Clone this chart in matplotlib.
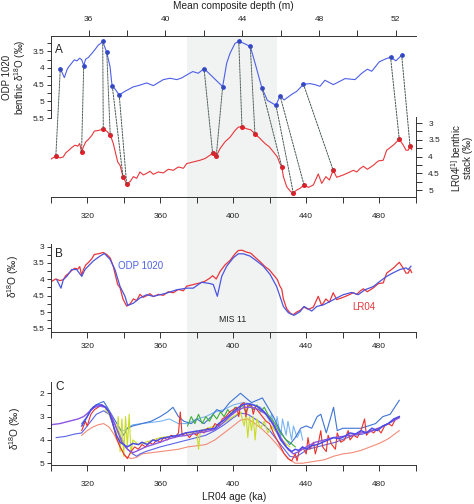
import matplotlib
matplotlib.use("Agg")
import numpy as np
import matplotlib.pyplot as plt
import matplotlib.ticker as tck
import matplotlib.transforms as mtransforms
from matplotlib.patches import Rectangle, ConnectionPatch

plt.rcParams['font.family'] = ['Liberation Sans', 'DejaVu Sans']
plt.rcParams['mathtext.fontset'] = 'custom'
plt.rcParams['mathtext.rm'] = 'Liberation Sans'
plt.rcParams['mathtext.default'] = 'regular'

# ---- panel A: ODP 1020 vs depth ----
odp_depth = [34.52, 34.73, 34.88, 34.97, 35.11, 35.25, 35.39, 35.53, 35.64, 35.74,
             35.84, 35.98, 36.16, 36.33, 36.50, 36.64, 36.73, 36.94, 37.11, 37.20,
             37.23, 37.37, 37.59, 37.89, 38.31, 38.58, 39.02, 39.37, 39.89, 40.24,
             40.59, 40.85, 41.11, 41.42, 41.71, 42.01, 42.98, 43.19, 43.36, 43.62,
             43.82, 44.06, 44.42, 44.67, 45.02, 45.31, 45.76, 45.97, 46.18, 46.58,
             46.84, 47.19, 47.53, 47.79, 48.05, 48.31, 48.75, 49.36, 49.88, 50.23,
             50.52, 50.75, 51.14, 51.44, 51.73, 52.01, 52.31]
odp_d18o = [4.02, 4.29, 4.04, 3.96, 3.86, 3.76, 3.79, 3.71, 3.76, 3.93,
            3.74, 3.69, 3.57, 3.45, 3.32, 3.26, 3.21, 3.54, 3.96, 4.45,
            4.55, 4.63, 4.81, 4.70, 4.57, 4.53, 4.45, 4.53, 4.35, 4.31,
            4.35, 4.30, 4.21, 4.11, 4.16, 4.02, 4.56, 3.86, 3.57, 3.27,
            3.21, 3.26, 3.36, 3.86, 4.59, 4.97, 5.12, 4.83, 4.96, 4.79,
            4.70, 4.49, 4.47, 4.50, 4.55, 4.37, 4.50, 4.32, 4.35, 4.16,
            4.04, 4.10, 3.82, 3.74, 3.68, 3.79, 3.62]

tie_depth = [34.52, 35.74, 36.73, 36.94, 37.23, 37.59, 42.01, 42.98,
             43.82, 44.42, 45.02, 45.76, 45.97, 47.19, 51.73, 52.31]
tie_odp = [4.02, 3.93, 3.21, 3.54, 4.55, 4.81, 4.02, 4.56,
           3.21, 3.36, 4.59, 5.12, 4.83, 4.49, 3.68, 3.62]

# ---- LR04 stack vs age (panels A and B) ----
lr04_age = [299.5, 300.5, 302.8, 305.1, 306.9, 308.2, 310.0, 311.5, 313.3, 314.8,
            315.9, 316.9, 317.9, 319.2, 320.6, 322.5, 323.9, 326.1, 328.8, 330.7,
            332.6, 334.3, 335.6, 336.7, 338.0, 339.6, 341.6, 343.5, 345.3, 347.1,
            348.9, 350.7, 352.6, 354.4, 356.2, 359.0, 361.7, 364.4, 367.2, 369.9,
            372.7, 374.5, 378.1, 381.8, 384.5, 387.3, 388.7, 390.7, 392.8, 395.5,
            398.3, 401.0, 402.8, 404.8, 407.4, 409.6, 411.9, 414.7, 417.4, 419.8,
            422.0, 424.2, 425.6, 426.6, 427.5, 429.3, 431.5, 432.9, 434.8, 436.6,
            438.8, 441.2, 443.9, 446.6, 448.5, 450.8, 452.7, 454.8, 456.7, 460.3,
            464.0, 465.8, 467.7, 469.5, 471.3, 473.5, 476.8, 479.5, 482.2, 484.1,
            487.7, 491.0, 493.2, 494.7, 495.9, 496.9, 497.8]
lr04_d18o = [4.11, 4.06, 3.99, 4.04, 4.01, 3.89, 3.81, 3.73, 3.66, 3.69,
             3.61, 3.87, 3.71, 3.56, 3.49, 3.37, 3.24, 3.22, 3.18, 3.24,
             3.35, 3.61, 3.91, 4.16, 4.26, 4.60, 4.82, 4.75, 4.60, 4.65,
             4.46, 4.55, 4.50, 4.44, 4.53, 4.46, 4.49, 4.38, 4.41, 4.31,
             4.35, 4.21, 4.16, 4.11, 4.06, 3.96, 3.89, 3.99, 3.76, 3.56,
             3.42, 3.22, 3.12, 3.11, 3.17, 3.20, 3.32, 3.46, 3.61, 3.71,
             3.86, 4.01, 4.21, 4.30, 4.60, 4.90, 5.05, 5.08, 5.00, 4.95,
             4.85, 4.92, 4.85, 4.52, 4.80, 4.60, 4.70, 4.41, 4.62, 4.55,
             4.46, 4.41, 4.46, 4.36, 4.29, 4.38, 4.26, 4.13, 4.11, 3.81,
             3.66, 3.48, 3.66, 3.81, 3.81, 3.69, 3.79]

tie_age = [302.8, 316.9, 328.8, 332.6, 339.6, 341.6, 388.7, 390.7,
           404.8, 411.9, 426.6, 432.9, 438.8, 454.8, 491.0, 496.9]
tie_lr04 = [3.99, 3.87, 3.18, 3.35, 4.60, 4.82, 3.89, 3.99,
            3.11, 3.32, 4.30, 5.08, 4.85, 4.41, 3.48, 3.69]

# ---- panel B: ODP 1020 on the LR04 age model ----
odp_age_b = [303.3, 305.6, 306.9, 308.8, 311.5, 314.2, 317.0, 318.8, 323.3, 327.0,
             329.4, 332.5, 335.2, 338.0, 340.7, 342.2, 345.3, 348.9, 352.6, 356.2,
             359.9, 363.6, 369.0, 374.5, 378.1, 382.7, 387.3, 389.1, 391.3, 393.7,
             396.4, 400.1, 402.8, 405.5, 409.2, 412.9, 416.5, 420.2, 423.8, 427.5,
             430.2, 433.3, 436.6, 438.8, 441.2, 443.0, 445.8, 449.4, 453.0, 456.7,
             460.3, 464.9, 468.5, 472.2, 476.8, 480.4, 484.1, 487.7, 491.4, 494.7,
             495.9, 497.4]
odp_d18o_b = [4.01, 4.27, 4.01, 3.91, 3.70, 3.70, 3.91, 3.70, 3.44, 3.29,
              3.21, 3.39, 3.70, 4.22, 4.52, 4.80, 4.73, 4.57, 4.47, 4.52,
              4.47, 4.42, 4.32, 4.27, 4.27, 4.09, 4.13, 4.16, 4.52, 3.91,
              3.60, 3.34, 3.22, 3.22, 3.29, 3.44, 3.60, 3.85, 4.22, 4.83,
              5.02, 5.10, 4.99, 4.83, 4.91, 4.97, 4.83, 4.78, 4.68, 4.57,
              4.47, 4.40, 4.47, 4.32, 4.22, 4.06, 3.91, 3.80, 3.70, 3.65,
              3.70, 3.60]

# ---- panel C: other records (age, d18O) ----
c_salmon = [(317, 3.8), (320, 3.6), (323, 3.45), (326, 3.35), (329, 3.3), (332, 3.45),
            (335, 3.8), (338, 4.3), (341, 4.7), (344, 4.8), (347, 4.75), (350, 4.6),
            (355, 4.55), (360, 4.5), (365, 4.45), (370, 4.4), (375, 4.3), (380, 4.25),
            (385, 4.2), (390, 4.0), (395, 3.7), (400, 3.4), (404, 3.15), (408, 3.1),
            (412, 3.3), (416, 3.55), (420, 3.85), (424, 4.2), (428, 4.6), (431, 4.85),
            (434, 5.0), (438, 5.0), (442, 4.95), (446, 4.9), (450, 4.85), (455, 4.7),
            (460, 4.6), (465, 4.55), (470, 4.45), (475, 4.3), (480, 4.15), (485, 3.95),
            (491, 3.6)]
c_lightblue = [(340, 3.6), (345, 3.35), (350, 3.3), (355, 3.25), (360, 3.2), (365, 3.1),
               (370, 3.3), (375, 3.3), (380, 3.1), (385, 3.0), (390, 2.8), (395, 2.7),
               (400, 2.5), (405, 2.4), (410, 2.45), (415, 2.6), (418, 2.9), (420, 3.2),
               (421, 2.9), (423, 3.6), (424, 3.0), (426, 3.9), (427, 3.1), (429, 3.8),
               (430, 3.2), (432, 4.0), (433, 3.4), (435, 3.9), (437, 3.6), (438, 4.0)]
c_steel = [(317, 3.3), (320, 3.0), (323, 2.6), (326, 2.45), (329, 2.35), (331, 2.6),
           (334, 3.0), (337, 3.4), (340, 3.8), (342, 3.5), (345, 3.4), (350, 3.3),
           (355, 3.2), (360, 3.0), (364, 2.8), (367, 2.6), (370, 3.0), (373, 3.2),
           (377, 3.3), (380, 3.1), (384, 3.3), (388, 3.0), (391, 2.7), (394, 2.8),
           (398, 2.4), (401, 2.2), (404, 2.0), (407, 2.2), (410, 2.4), (413, 2.3),
           (416, 2.2), (419, 2.6), (422, 3.0), (425, 3.5), (428, 3.9), (431, 4.2),
           (434, 3.9), (437, 3.5), (440, 3.4), (443, 3.5), (446, 3.0), (448, 2.9),
           (451, 3.7), (455, 2.6), (457, 3.6), (460, 3.5), (465, 3.5), (470, 3.5),
           (474, 3.4), (478, 3.3), (482, 3.0), (486, 2.9), (491, 2.3)]
c_blue2 = [(303, 3.9), (308, 3.85), (313, 3.75), (317, 3.7), (321, 3.3), (325, 2.9),
           (329, 2.75), (332, 2.9), (335, 3.3), (338, 3.8), (341, 4.3), (344, 4.55),
           (347, 4.7), (349, 4.6), (352, 4.5), (356, 4.4), (360, 4.3), (365, 4.2),
           (370, 4.1), (375, 4.0), (380, 3.9), (385, 3.8), (390, 3.6), (395, 3.35),
           (400, 3.05), (404, 2.85), (408, 2.9), (412, 3.1), (416, 3.3), (420, 3.6),
           (424, 4.0), (428, 4.4), (431, 4.7), (434, 4.75), (437, 4.6), (441, 4.4),
           (446, 4.3), (451, 4.2), (456, 4.1), (461, 3.95), (466, 3.8), (471, 3.75),
           (476, 3.6), (481, 3.45), (486, 3.25), (491, 3.0)]
c_green = [(375, 3.4), (377, 3.0), (379, 3.3), (381, 2.9), (383, 3.3), (385, 3.0),
           (387, 3.2), (389, 2.9), (391, 3.1), (393, 2.8), (395, 3.0), (397, 2.7),
           (399, 2.9), (401, 2.6), (403, 2.7), (405, 2.5), (407, 2.8), (409, 2.5),
           (411, 2.7), (413, 2.5), (415, 2.8), (417, 2.6), (419, 2.9), (421, 3.1),
           (423, 3.3), (425, 3.6), (427, 3.8), (429, 4.0), (431, 4.1), (434, 4.3)]
c_yellow = [(330, 2.7), (332, 2.9), (334, 3.3), (336, 3.9), (337, 3.0), (338, 4.5),
            (339, 3.1), (340, 4.7), (341, 3.0), (342, 4.3), (343, 2.9), (344, 4.6),
            (345, 4.0), (348, 4.2), (352, 4.1), (356, 4.0), (360, 3.9), (365, 3.85),
            (370, 3.8), (375, 3.7), (378, 3.7), (380, 3.6), (381, 4.4), (382, 3.6),
            (386, 3.5), (390, 3.4), (394, 3.3), (398, 3.1), (402, 2.9), (404, 2.8),
            (406, 3.4), (407, 2.9), (408, 3.9), (409, 3.0), (410, 3.6), (411, 3.0),
            (412, 4.0), (413, 3.1), (415, 3.5), (417, 3.2), (419, 3.7), (421, 3.4),
            (423, 3.6), (425, 3.8), (428, 4.1), (431, 4.3)]
c_red = [(317, 3.6), (319, 3.2), (320, 3.4), (322, 2.9), (324, 2.7), (326, 2.6), (328, 2.5),
         (330, 2.6), (332, 2.8), (334, 3.3), (336, 3.9), (338, 4.3), (340, 4.6), (342, 4.8),
         (344, 4.5), (346, 4.3), (348, 4.4), (350, 4.2), (352, 4.3), (354, 4.1), (356, 4.2),
         (358, 4.0), (360, 4.1), (362, 3.9), (364, 4.0), (366, 3.8), (368, 3.9), (370, 3.7),
         (371, 2.8), (372, 3.8), (374, 3.7), (376, 3.9), (378, 3.7), (380, 3.8), (382, 3.6),
         (384, 3.7), (386, 3.5), (388, 3.6), (390, 3.3), (392, 3.4), (394, 3.1), (396, 3.0),
         (398, 2.8), (400, 2.7), (402, 2.6), (403, 3.0), (404, 2.5), (406, 2.4), (407, 3.0),
         (408, 2.5), (410, 2.5), (411, 2.9), (412, 2.6), (414, 2.8), (416, 3.0), (418, 3.2),
         (420, 3.3), (422, 3.7), (424, 4.0), (426, 4.3), (428, 4.6), (430, 4.8), (432, 4.9),
         (434, 4.6), (435, 4.9), (436, 4.5), (438, 4.3), (440, 4.6), (441, 3.9), (442, 4.4),
         (444, 4.1), (445, 4.6), (447, 4.0), (448, 3.6), (449, 4.3), (451, 4.5), (452, 3.8),
         (454, 4.2), (456, 4.4), (457, 3.7), (459, 4.1), (461, 4.0), (463, 3.6), (464, 4.0),
         (466, 3.8), (468, 3.9), (470, 3.6), (472, 3.1), (473, 3.8), (475, 3.6), (477, 3.7),
         (479, 3.5), (481, 3.7), (483, 3.4), (485, 3.3), (487, 3.4), (489, 3.1), (491, 3.0)]
c_purple = [(300, 3.35), (305, 3.3), (310, 3.2), (315, 3.1), (318, 3.0), (321, 2.8),
            (324, 2.6), (327, 2.55), (330, 2.6), (333, 2.9), (336, 3.5), (339, 4.1),
            (342, 4.4), (345, 4.55), (348, 4.45), (352, 4.3), (356, 4.2), (360, 4.1),
            (365, 3.95), (370, 3.85), (375, 3.8), (380, 3.7), (385, 3.65), (390, 3.55),
            (394, 3.3), (398, 3.0), (402, 2.75), (406, 2.6), (410, 2.6), (414, 2.7),
            (418, 2.9), (422, 3.3), (426, 3.9), (430, 4.4), (433, 4.6), (436, 4.5),
            (440, 4.3), (445, 4.1), (450, 4.0), (455, 3.9), (460, 3.85), (465, 3.8),
            (470, 3.7), (475, 3.65), (480, 3.5), (485, 3.3), (491, 3.05)]
c_blue = [(317, 3.4), (320, 3.0), (322, 2.7), (325, 2.5), (328, 2.5), (330, 2.6), (332, 2.8),
          (334, 3.3), (336, 3.8), (338, 4.1), (340, 4.2), (342, 4.3), (345, 4.15), (348, 4.2),
          (350, 4.1), (353, 4.2), (356, 4.0), (358, 4.05), (360, 3.95), (363, 3.9), (366, 3.85),
          (370, 3.8), (374, 3.7), (378, 3.65), (382, 3.6), (386, 3.55), (390, 3.5), (392, 3.3),
          (394, 3.2), (397, 3.0), (400, 2.8), (403, 2.6), (405, 2.5), (408, 2.45), (411, 2.5),
          (414, 2.6), (417, 2.8), (420, 3.1), (423, 3.5), (426, 4.0), (429, 4.3), (432, 4.5),
          (434, 4.4), (436, 4.45), (438, 4.3), (440, 4.4), (443, 4.25), (446, 4.2), (449, 4.1),
          (452, 4.0), (455, 3.9), (458, 3.95), (461, 3.85), (464, 3.7), (467, 3.75), (470, 3.6),
          (473, 3.7), (476, 3.5), (479, 3.6), (482, 3.4), (485, 3.3), (488, 3.1), (491, 3.0)]

BLUE = '#4d5fe6'
RED = '#e8363a'
TXT = '#222222'
fmt = tck.FuncFormatter(lambda v, p: f"{v:g}")

fig = plt.figure(figsize=(4.74, 5.04), dpi=100)
axA = fig.add_axes([0.107, 0.609, 0.770, 0.3194])
axB = fig.add_axes([0.107, 0.3413, 0.770, 0.1746])
axC = fig.add_axes([0.107, 0.0774, 0.770, 0.1647])
axAr = axA.twinx()
axAt = axA.twiny()

for ax in (axA, axB, axC, axAr, axAt):
    ax.set_facecolor('none')
    for s in ax.spines.values():
        s.set_linewidth(0.7)
        s.set_color('#333333')
    ax.tick_params(which='both', direction='out', width=0.7, color='#333333',
                   labelsize=6, labelcolor=TXT)

# MIS 11 band across all panels
band = Rectangle((374.5, 0.0774), 49.5, 0.9286 - 0.0774,
                 transform=mtransforms.blended_transform_factory(axA.transData, fig.transFigure),
                 facecolor='#f1f3f3', edgecolor='none', zorder=-1)
fig.add_artist(band)

# ---- panel A ----
axA.set_xlim(300, 500)
axA.set_ylim(7.86, 3.05)
axAr.set_ylim(5.21, 0.40)
axAt.set_xlim(34.02, 53.04)

axA.spines['top'].set_visible(False)
axA.spines['right'].set_visible(False)
axA.spines['left'].set_bounds(5.5, 3.05)
for k in ('left', 'top', 'bottom'):
    axAr.spines[k].set_visible(False)
axAr.spines['right'].set_bounds(5.21, 2.83)
for k in ('left', 'right', 'bottom'):
    axAt.spines[k].set_visible(False)

axAt.plot(odp_depth, odp_d18o, color=BLUE, lw=0.8)
axAt.plot(tie_depth, tie_odp, 'o', ms=2.4, color='#2f44d8', zorder=3)
axAr.plot(lr04_age, lr04_d18o, color=RED, lw=0.8)
axAr.plot(tie_age, tie_lr04, 'o', ms=2.6, color='#e0202a', zorder=3)

for d, v, a, w in zip(tie_depth, tie_odp, tie_age, tie_lr04):
    con = ConnectionPatch(xyA=(d, v), coordsA=axAt.transData,
                          xyB=(a, w), coordsB=axAr.transData,
                          linestyle=(0, (1.8, 1.3)), color='#4a5a55', lw=0.7, zorder=1)
    fig.add_artist(con)

age_major = [320, 360, 400, 440, 480]
age_minor = [300, 340, 380, 420, 460, 500]
for ax in (axA, axB, axC):
    ax.xaxis.set_major_locator(tck.FixedLocator(age_major))
    ax.xaxis.set_minor_locator(tck.FixedLocator(age_minor))
    ax.tick_params(axis='x', which='both', length=4.5)

axA.tick_params(axis='x', pad=7)
axA.yaxis.set_major_locator(tck.FixedLocator([3.5, 4, 4.5, 5, 5.5]))
axA.yaxis.set_minor_locator(tck.FixedLocator([3.25, 3.75, 4.25, 4.75, 5.25]))
axA.yaxis.set_major_formatter(fmt)
axA.tick_params(axis='y', which='both', length=3, pad=1.5)

axAr.yaxis.set_major_locator(tck.FixedLocator([3, 3.5, 4, 4.5, 5]))
axAr.yaxis.set_minor_locator(tck.FixedLocator([3.25, 3.75, 4.25, 4.75]))
axAr.yaxis.set_major_formatter(fmt)
axAr.tick_params(axis='y', which='both', length=4.5, pad=4.5)

axAt.xaxis.set_major_locator(tck.FixedLocator([36, 40, 44, 48, 52]))
axAt.xaxis.set_minor_locator(tck.FixedLocator([34, 38, 42, 46, 50]))
axAt.tick_params(axis='x', which='both', length=4, pad=5.5)

axAt.set_xlabel('Mean composite depth (m)', fontsize=7.3, color=TXT)
axAt.xaxis.set_label_coords(0.4995, 1.171)
axA.set_ylabel('ODP 1020\nbenthic δ$^{18}$O (‰)', fontsize=7.0, color=TXT, linespacing=1.0)
axA.yaxis.set_label_coords(-0.062, 0.742)
axAr.set_ylabel('LR04$^{[1]}$ benthic\nstack (‰)', fontsize=7.1, color=TXT, linespacing=1.0)
axAr.yaxis.set_label_coords(1.093, 0.242)
axA.text(0.012, 0.913, 'A', transform=axA.transAxes, fontsize=8.5, va='center', color=TXT)

# ---- panel B ----
axB.set_xlim(300, 500)
axB.set_ylim(5.61, 2.92)
axB.spines['top'].set_visible(False)
axB.spines['right'].set_visible(False)
axB.plot(lr04_age, lr04_d18o, color=RED, lw=0.9)
axB.plot(odp_age_b, odp_d18o_b, color='#4a55e0', lw=0.9)
axB.yaxis.set_major_locator(tck.FixedLocator([3, 3.5, 4, 4.5, 5, 5.5]))
axB.yaxis.set_minor_locator(tck.FixedLocator([3.25, 3.75, 4.25, 4.75, 5.25]))
axB.yaxis.set_major_formatter(fmt)
axB.tick_params(axis='y', which='both', length=3, pad=1.5)
axB.tick_params(axis='x', pad=3.5)
axB.set_ylabel('δ$^{18}$O (‰)', fontsize=7.3, color=TXT)
axB.yaxis.set_label_coords(-0.081, 0.625)
axB.text(0.012, 0.886, 'B', transform=axB.transAxes, fontsize=8.5, va='center', color=TXT)
axB.text(337, 3.6, 'ODP 1020', color='#4f63e6', fontsize=7, va='center', ha='left')
axB.text(465, 4.84, 'LR04', color=RED, fontsize=7, va='center', ha='left')
axB.text(399.6, 5.24, 'MIS 11', color=TXT, fontsize=6.3, va='center', ha='center')

# ---- panel C ----
axC.set_xlim(300, 500)
axC.set_ylim(5.075, 1.515)
axC.spines['top'].set_visible(False)
axC.spines['right'].set_visible(False)
c_series = [(c_salmon, '#f28c78', 0.8), (c_lightblue, '#7ab4f2', 0.8),
            (c_steel, '#3d74d4', 0.8), (c_blue2, '#5a63e6', 0.8),
            (c_green, '#3fae35', 0.8), (c_yellow, '#c9dc24', 0.8),
            (c_red, '#e8322c', 0.8), (c_purple, '#8c55e0', 1.0),
            (c_blue, '#4b4bea', 1.1)]
for data, col, lw in c_series:
    arr = np.array(data)
    axC.plot(arr[:, 0], arr[:, 1], color=col, lw=lw)
axC.yaxis.set_major_locator(tck.FixedLocator([2, 3, 4, 5]))
axC.yaxis.set_minor_locator(tck.FixedLocator([2.5, 3.5, 4.5]))
axC.yaxis.set_major_formatter(fmt)
axC.tick_params(axis='y', which='both', length=3, pad=1.5)
axC.tick_params(axis='x', pad=7)
axC.set_ylabel('δ$^{18}$O (‰)', fontsize=7.3, color=TXT)
axC.yaxis.set_label_coords(-0.076, 0.434)
axC.set_xlabel('LR04 age (ka)', fontsize=7.3, color=TXT)
axC.xaxis.set_label_coords(0.502, -0.329)
axC.text(0.012, 0.94, 'C', transform=axC.transAxes, fontsize=8.5, va='center', color=TXT)

fig.savefig('out.png', dpi=100)
